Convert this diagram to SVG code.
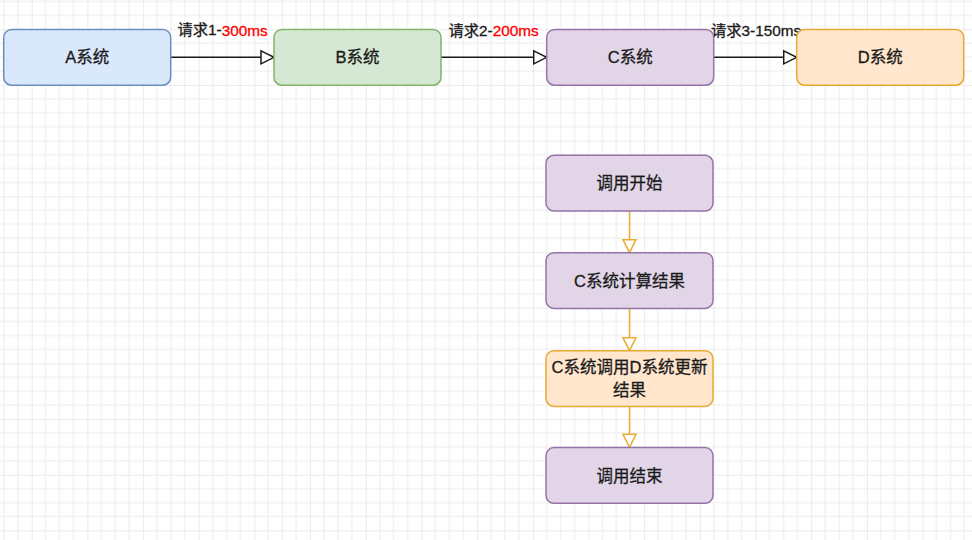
<svg xmlns="http://www.w3.org/2000/svg" width="972" height="540" viewBox="0 0 972 540">
<style>
text{font-family:"Liberation Sans","Noto Sans CJK SC",sans-serif;fill:#1a1a1a;stroke:#1a1a1a;stroke-width:0.3;text-anchor:middle;dominant-baseline:central}
.n{font-size:16.5px}
.e{font-size:15.3px}
.red{fill:#ff0000;stroke:#ff0000}
.box{stroke-width:1.5}
.purple{fill:#e1d5e7;stroke:#9673a6}
.blue{fill:#dae8fc;stroke:#6c8ebf}
.green{fill:#d5e8d4;stroke:#82b366}
.orange{fill:#ffe6cc;stroke:#e6aa30}
.blk{stroke:#1a1a1a;stroke-width:1.5;fill:none}
.org{stroke:#eaae33;stroke-width:1.5;fill:none}
</style>
<defs>
<pattern id="grid" patternUnits="userSpaceOnUse" x="31.7" y="29.3" width="55.68" height="55.68">
<path d="M13.92 0V55.68M27.84 0V55.68M41.76 0V55.68M0 13.92H55.68M0 27.84H55.68M0 41.76H55.68" stroke="#ececec" stroke-width="1" fill="none"/>
<path d="M0 0V55.68M0 0H55.68" stroke="#dadada" stroke-width="1" fill="none"/>
</pattern>
<marker id="ab" markerUnits="userSpaceOnUse" markerWidth="16" markerHeight="16" refX="13" refY="6.5" orient="auto" viewBox="-1 -1 16 15">
<path d="M0 0L13 6.5L0 13Z" fill="#fff" stroke="#1a1a1a" stroke-width="1.5"/>
</marker>
<marker id="ao" markerUnits="userSpaceOnUse" markerWidth="16" markerHeight="16" refX="13" refY="6.5" orient="auto" viewBox="-1 -1 16 15">
<path d="M0 0L13 6.5L0 13Z" fill="#fff" stroke="#eaae33" stroke-width="1.5"/>
</marker>
</defs>
<rect width="972" height="540" fill="#fff"/>
<rect width="972" height="540" fill="url(#grid)"/>
<g id="connectors">
<path class="blk" d="M171 57.3H274" marker-end="url(#ab)"/>
<path class="blk" d="M441 57.3H546.7" marker-end="url(#ab)"/>
<path class="blk" d="M713.7 57.3H796.7" marker-end="url(#ab)"/>
<path class="org" d="M629.5 211V252.7" marker-end="url(#ao)"/>
<path class="org" d="M629.5 308.3V350.7" marker-end="url(#ao)"/>
<path class="org" d="M629.5 406V447.3" marker-end="url(#ao)"/>
<text class="e" x="222.5" y="29.5">请求1-<tspan class="red">300ms</tspan></text>
<text class="e" x="493.5" y="30">请求2-<tspan class="red">200ms</tspan></text>
<text class="e" x="756" y="30">请求3-150ms</text>
</g>
<g id="nodeA"><rect class="box blue" x="3.7" y="29.5" width="167" height="55.7" rx="8"/><text class="n" x="87.2" y="57.3">A系统</text></g>
<g id="nodeB"><rect class="box green" x="274" y="29.5" width="167" height="55.7" rx="8"/><text class="n" x="357.5" y="57.3">B系统</text></g>
<g id="nodeC"><rect class="box purple" x="546.7" y="29.5" width="167" height="55.7" rx="8"/><text class="n" x="630.2" y="57.3">C系统</text></g>
<g id="nodeD"><rect class="box orange" x="796.7" y="29.5" width="167" height="55.7" rx="8"/><text class="n" x="880.2" y="57.3">D系统</text></g>
<g id="start"><rect class="box purple" x="546" y="155.3" width="167" height="55.7" rx="8"/><text class="n" x="629.5" y="183.2">调用开始</text></g>
<g id="calc"><rect class="box purple" x="546" y="252.7" width="167" height="55.7" rx="8"/><text class="n" x="629.5" y="280.5">C系统计算结果</text></g>
<g id="update"><rect class="box orange" x="546" y="350.7" width="167" height="55.7" rx="8"/><text class="n" x="629.5" y="367.3">C系统调用D系统更新</text><text class="n" x="629.5" y="389.5">结果</text></g>
<g id="end"><rect class="box purple" x="546" y="447.6" width="167" height="55.7" rx="8"/><text class="n" x="629.5" y="475.5">调用结束</text></g>
</svg>
